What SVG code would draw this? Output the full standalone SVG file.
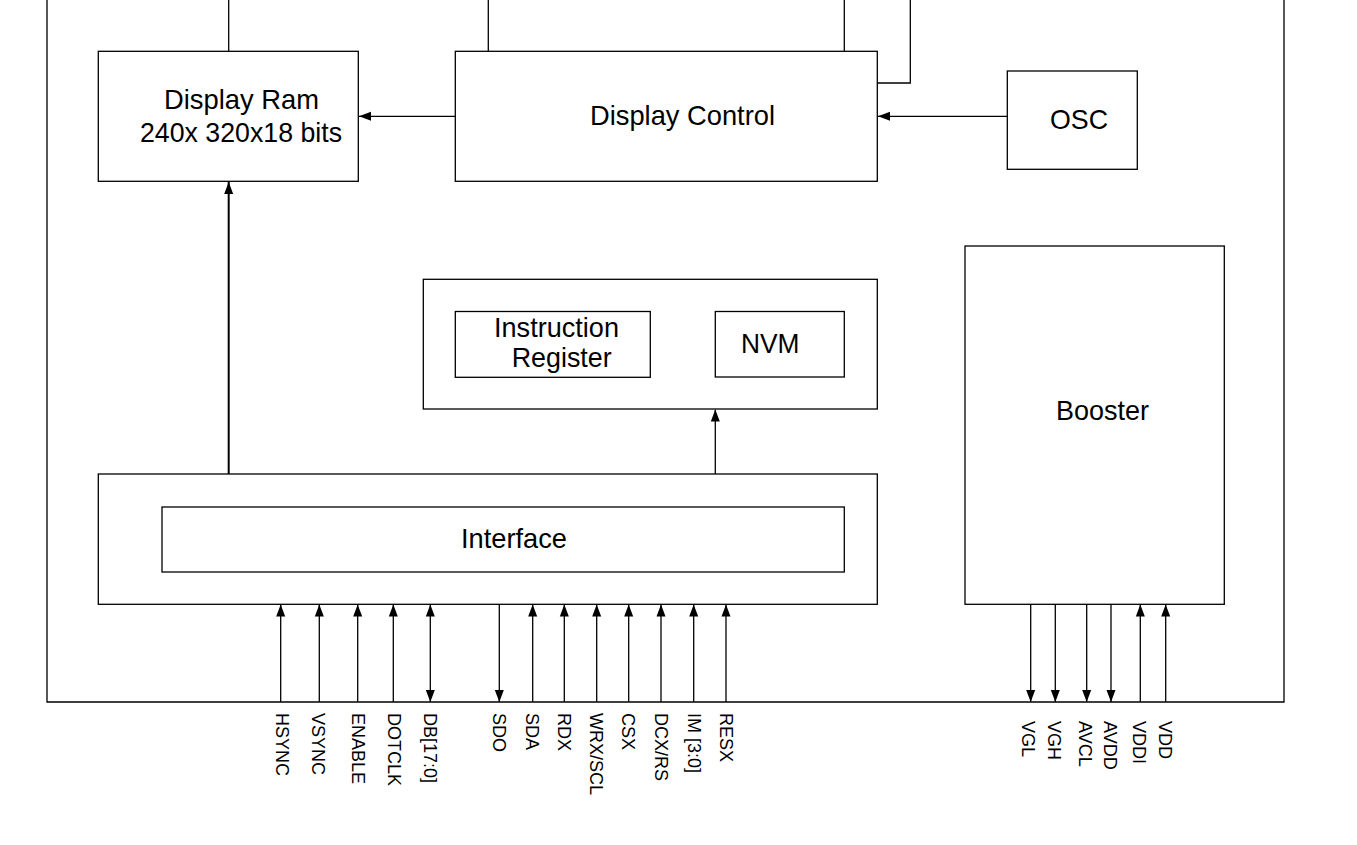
<svg xmlns="http://www.w3.org/2000/svg" width="1357" height="845" viewBox="0 0 1357 845">
<style>
.box{fill:none;stroke:#000;stroke-width:1.3}
.ln{fill:none;stroke:#000;stroke-width:1.3}
.thick{fill:none;stroke:#000;stroke-width:2}
.lbl{font-family:"Liberation Sans",Arial,Helvetica,sans-serif;font-size:28.5px;fill:#000}
.pin{font-family:"Liberation Sans",Arial,Helvetica,sans-serif;font-size:18px;fill:#000}
</style>
<defs>
<marker id="ah" markerUnits="userSpaceOnUse" markerWidth="12" markerHeight="10" refX="12" refY="4.5" orient="auto-start-reverse" viewBox="0 0 12 9">
<path d="M0,0 L12,4.5 L0,9 z" fill="#000"/>
</marker>
</defs>
<rect width="1357" height="845" fill="#fff"/>

<g id="outer">
<path class="ln" d="M47,0 V702 H1284 V0"/>
</g>

<g id="display-ram">
<rect class="box" x="98.3" y="51.3" width="260" height="130"/>
<text class="lbl" x="164" y="109" textLength="155" lengthAdjust="spacingAndGlyphs">Display Ram</text>
<text class="lbl" x="140" y="141.5" textLength="202" lengthAdjust="spacingAndGlyphs">240x 320x18 bits</text>
</g>

<g id="display-control">
<rect class="box" x="455.3" y="51.3" width="422" height="130"/>
<text class="lbl" x="590" y="125" textLength="185" lengthAdjust="spacingAndGlyphs">Display Control</text>
</g>

<g id="osc">
<rect class="box" x="1007.3" y="71" width="130" height="98.3"/>
<text class="lbl" x="1050" y="129" textLength="58" lengthAdjust="spacingAndGlyphs">OSC</text>
</g>

<g id="register-group">
<rect class="box" x="423.3" y="279.3" width="454" height="129.7"/>
</g>

<g id="instruction-register">
<rect class="box" x="455.3" y="311.5" width="195" height="65.8"/>
<text class="lbl" x="494" y="337" textLength="125" lengthAdjust="spacingAndGlyphs">Instruction</text>
<text class="lbl" x="511.7" y="367" textLength="100" lengthAdjust="spacingAndGlyphs">Register</text>
</g>

<g id="nvm">
<rect class="box" x="715.3" y="311.5" width="129" height="65.5"/>
<text class="lbl" x="741" y="353.3" textLength="58.5" lengthAdjust="spacingAndGlyphs">NVM</text>
</g>

<g id="interface-group">
<rect class="box" x="98.3" y="474" width="779" height="130.3"/>
</g>

<g id="interface">
<rect class="box" x="162" y="507" width="682.3" height="65"/>
<text class="lbl" x="461" y="548" textLength="106" lengthAdjust="spacingAndGlyphs">Interface</text>
</g>

<g id="booster">
<rect class="box" x="965" y="246" width="259.3" height="358.3"/>
<text class="lbl" x="1056" y="420" textLength="93" lengthAdjust="spacingAndGlyphs">Booster</text>
</g>

<g id="connectors">
<line class="ln" x1="228.7" y1="0" x2="228.7" y2="51.3"/>
<line class="ln" x1="488.3" y1="0" x2="488.3" y2="51.3"/>
<line class="ln" x1="844.3" y1="0" x2="844.3" y2="51.3"/>
<path class="ln" d="M877.3,83 H910.3 V0"/>
<line class="ln" x1="455.3" y1="116.3" x2="359" y2="116.3" marker-end="url(#ah)"/>
<line class="ln" x1="1007.3" y1="116.3" x2="878" y2="116.3" marker-end="url(#ah)"/>
<line class="thick" x1="228.7" y1="474" x2="228.7" y2="182" marker-end="url(#ah)"/>
<line class="ln" x1="715.3" y1="474" x2="715.3" y2="409.5" marker-end="url(#ah)"/>

<line class="ln" x1="280.7" y1="702" x2="280.7" y2="604.5" marker-end="url(#ah)"/>
<line class="ln" x1="319.3" y1="702" x2="319.3" y2="604.5" marker-end="url(#ah)"/>
<line class="ln" x1="357.7" y1="702" x2="357.7" y2="604.5" marker-end="url(#ah)"/>
<line class="ln" x1="393.3" y1="702" x2="393.3" y2="604.5" marker-end="url(#ah)"/>
<line class="ln" x1="430.3" y1="604.5" x2="430.3" y2="702" marker-start="url(#ah)" marker-end="url(#ah)"/>
<line class="ln" x1="499.3" y1="604.5" x2="499.3" y2="702" marker-end="url(#ah)"/>
<line class="ln" x1="532.7" y1="702" x2="532.7" y2="604.5" marker-end="url(#ah)"/>
<line class="ln" x1="564.3" y1="702" x2="564.3" y2="604.5" marker-end="url(#ah)"/>
<line class="ln" x1="596.7" y1="702" x2="596.7" y2="604.5" marker-end="url(#ah)"/>
<line class="ln" x1="628.7" y1="702" x2="628.7" y2="604.5" marker-end="url(#ah)"/>
<line class="ln" x1="661" y1="702" x2="661" y2="604.5" marker-end="url(#ah)"/>
<line class="ln" x1="693.7" y1="702" x2="693.7" y2="604.5" marker-end="url(#ah)"/>
<line class="ln" x1="726" y1="702" x2="726" y2="604.5" marker-end="url(#ah)"/>

<line class="ln" x1="1030.7" y1="604.5" x2="1030.7" y2="702" marker-end="url(#ah)"/>
<line class="ln" x1="1055.3" y1="604.5" x2="1055.3" y2="702" marker-end="url(#ah)"/>
<line class="ln" x1="1086.7" y1="604.5" x2="1086.7" y2="702" marker-end="url(#ah)"/>
<line class="ln" x1="1111" y1="604.5" x2="1111" y2="702" marker-end="url(#ah)"/>
<line class="ln" x1="1140.3" y1="702" x2="1140.3" y2="604.5" marker-end="url(#ah)"/>
<line class="ln" x1="1165.7" y1="702" x2="1165.7" y2="604.5" marker-end="url(#ah)"/>
</g>

<g id="pin-labels">
<text class="pin" transform="translate(276,713) rotate(90)">HSYNC</text>
<text class="pin" transform="translate(312,713) rotate(90)">VSYNC</text>
<text class="pin" transform="translate(351.5,713) rotate(90)">ENABLE</text>
<text class="pin" transform="translate(387.5,713) rotate(90)">DOTCLK</text>
<text class="pin" transform="translate(424,713) rotate(90)">DB[17:0]</text>
<text class="pin" transform="translate(493,713) rotate(90)">SDO</text>
<text class="pin" transform="translate(526,713) rotate(90)">SDA</text>
<text class="pin" transform="translate(558,713) rotate(90)">RDX</text>
<text class="pin" transform="translate(590,713) rotate(90)">WRX/SCL</text>
<text class="pin" transform="translate(622,713) rotate(90)">CSX</text>
<text class="pin" transform="translate(655,713) rotate(90)">DCX/RS</text>
<text class="pin" transform="translate(688,713) rotate(90)">IM [3:0]</text>
<text class="pin" transform="translate(720,713) rotate(90)">RESX</text>
<text class="pin" transform="translate(1022,721) rotate(90)">VGL</text>
<text class="pin" transform="translate(1048,721) rotate(90)">VGH</text>
<text class="pin" transform="translate(1079,721) rotate(90)">AVCL</text>
<text class="pin" transform="translate(1104,721) rotate(90)">AVDD</text>
<text class="pin" transform="translate(1133,721) rotate(90)">VDDI</text>
<text class="pin" transform="translate(1159,721) rotate(90)">VDD</text>
</g>
</svg>
